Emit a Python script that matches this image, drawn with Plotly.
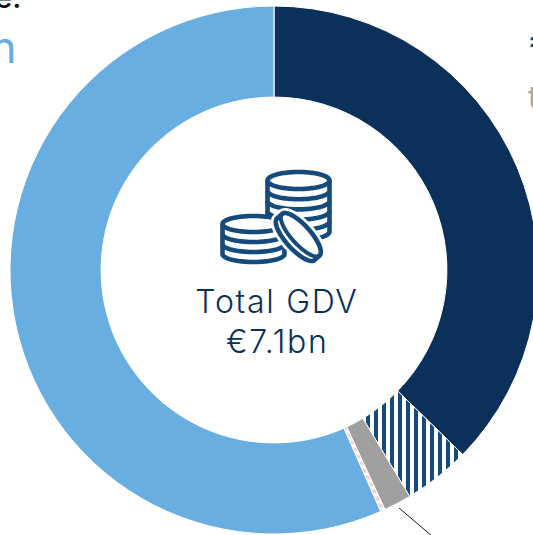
import numpy as np
import plotly.graph_objects as go

categories = ["Navy share", "Striped share", "Grey share", "Pink share", "Light blue share"]
values_bn = [2.65, 0.29, 0.12, 0.02, 4.02]
colors = ["#0B3059", "#FFFFFF", "#A0A0A0", "#FFFFFF", "#68AEE0"]

NAVY = "#0B3059"
ICON = "#154A7C"
W = H = 800
OFF = 100  # canvas is shifted so that text runs past the window edge


def px(x):
    return (x + OFF) / W


def py(y):
    return 1 - (y + OFF) / H


def path(points, close=False):
    s = "M" + " L".join(f"{px(x):.5f},{py(y):.5f}" for x, y in points)
    return s + (" Z" if close else "")


def ell(cx, cy, rx, ry, a0=0, a1=360, rot=0):
    t = np.radians(np.linspace(a0, a1, 60))
    r = np.radians(rot)
    x, y = rx * np.cos(t), ry * np.sin(t)
    return list(zip(cx + x * np.cos(r) - y * np.sin(r), cy + x * np.sin(r) + y * np.cos(r)))


shapes = []


def stroke(points, close=False, fill=None, width=4.6, color=ICON):
    shapes.append(dict(type="path", xref="paper", yref="paper", path=path(points, close),
                       line=dict(color=color, width=width),
                       fillcolor=fill if fill else "rgba(0,0,0,0)"))


def stack(cx, top, rx, ry, rows, pitch):
    bottom = top + rows * pitch
    body = ell(cx, top, rx, ry, 180, 360) + ell(cx, bottom, rx, ry, 0, 180)
    stroke(body, True, "#FFFFFF")
    stroke(ell(cx, top, rx, ry, 0, 180))
    for i in range(1, rows):
        stroke(ell(cx, top + i * pitch, rx, ry, 0, 180))


# coin stacks
stack(298.5, 180.5, 31, 8.5, 5, 10.2)
stack(253.5, 224, 31, 8, 3, 10)

# tilted coin
rot = 48
off = np.array([5.0, -4.5])
centre = np.array([298.3, 237])
c1 = centre - off / 2
c2 = centre + off / 2
hull = ell(c1[0], c1[1], 28, 9.5, 0, 180, rot) + ell(c2[0], c2[1], 28, 9.5, 180, 360, rot)
stroke(hull, True, "#FFFFFF", width=10, color="#FFFFFF")
stroke(hull, True, "#FFFFFF")
stroke(ell(c2[0], c2[1], 28, 9.5, 0, 180, rot), width=4)

# leader line
shapes.append(dict(type="line", xref="paper", yref="paper", x0=px(399), y0=py(508), x1=px(432), y1=py(536),
                   line=dict(color="#1A1A1A", width=1)))


def label(text, x, y, size, color, xanchor="center", yanchor="middle", family="Inter", weight=300):
    return dict(text=text, xref="paper", yref="paper", x=px(x), y=py(y), xanchor=xanchor, yanchor=yanchor,
                showarrow=False, font=dict(size=size, color=color, family=family, weight=weight))


annotations = [
    label("Total GDV", 277, 302, 32, NAVY),
    label("€7.1bn", 277, 341, 32, NAVY),
    label("Residential sale.", 23, -3, 30, "#111111", "right", "middle", weight=500),
    label("€4.0bn", 19, 47, 44, "#68AEE0", "right", "middle", weight=400),
    label("Commercial", 527, -9, 30, "#111111", "left", "middle", weight=500),
    label("€2.7bn", 527, 42, 44, "#154A7C", "left", "middle", weight=400),
    label("to let", 526, 97, 30, "#A8A8A8", "left", "middle", weight=400),
]

fig = go.Figure(go.Pie(
    labels=categories, values=values_bn, sort=False, direction="clockwise", rotation=0, hole=0.655,
    textinfo="none", hoverinfo="skip", showlegend=False,
    domain=dict(x=[px(10), px(538)], y=[py(534), py(6)]),
    marker=dict(
        colors=colors,
        line=dict(color="#FFFFFF", width=1),
        pattern=dict(
            shape=["", "|", "", "-", ""],
            fgcolor=["#0B3059", "#154A7C", "#A0A0A0", "#F8CFC8", "#68AEE0"],
            bgcolor=["#0B3059", "#FFFFFF", "#A0A0A0", "#FFFFFF", "#68AEE0"],
            size=[8, 8, 8, 7, 8],
            solidity=[0.5, 0.5, 0.5, 0.55, 0.5],
            fillmode="replace",
        ),
    ),
))
fig.update_layout(width=W, height=H, margin=dict(l=0, r=0, t=0, b=0), paper_bgcolor="white",
                  shapes=shapes, annotations=annotations)

fig.write_html("out.html", config=dict(displayModeBar=False), post_script=f"""
document.documentElement.style.overflow='hidden';
document.body.style.overflow='hidden';
document.body.style.margin='0';
var g=document.getElementById('{{plot_id}}');
g.style.position='absolute'; g.style.left='-{OFF}px'; g.style.top='-{OFF}px';
g.querySelectorAll('.annotation-text').forEach(function(t){{
  if(t.textContent==='Total GDV'||t.textContent==='€7.1bn'){{t.style.letterSpacing='1.7px';}}
}});
""")
